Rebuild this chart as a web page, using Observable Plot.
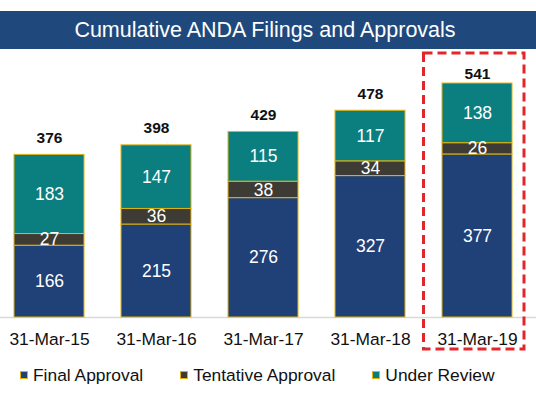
<!DOCTYPE html>
<html>
<head>
<meta charset="utf-8">
<script src="https://cdn.jsdelivr.net/npm/d3@7"></script>
<script src="https://cdn.jsdelivr.net/npm/@observablehq/plot@0.6"></script>
<style>
  html, body { margin: 0; padding: 0; background: #fff; }
  body { width: 536px; height: 396px; overflow: hidden; font-family: "Liberation Sans", Arial, sans-serif; }
  #title { margin-top: 11px; height: 38px; line-height: 38px; background: #1F497D; color: #fff;
           font-size: 21.5px; text-align: center; padding-right: 6px; }
  #chart svg { display: block; }
  #legend { height: 40px; padding-left: 20px; padding-top: 9px; box-sizing: border-box; display: flex; align-items: flex-start; }
  .item { display: flex; align-items: center; margin-right: 37px; font-size: 17.4px; color: #111; line-height: 20px; height: 20px; }
  .sw { width: 6px; height: 6px; border: 1px solid #E2B30E; margin-right: 5px; }
</style>
</head>
<body>
<div id="title">Cumulative ANDA Filings and Approvals</div>
<div id="chart"></div>
<div id="legend"></div>
<script>
const dates = ["31-Mar-15", "31-Mar-16", "31-Mar-17", "31-Mar-18", "31-Mar-19"];
const finalApproval = [166, 215, 276, 327, 377];
const tentativeApproval = [27, 36, 38, 34, 26];
const underReview = [183, 147, 115, 117, 138];
const totals = [376, 398, 429, 478, 541];
const series = ["Final Approval", "Tentative Approval", "Under Review"];
const colors = ["#1F4178", "#3E3A34", "#0B7E7F"];
const highlight = "31-Mar-19";

const valuesBySeries = [finalApproval, tentativeApproval, underReview];
const rows = [];
dates.forEach((d, i) => {
  series.forEach((s, j) => rows.push({date: d, series: s, value: valuesBySeries[j][i]}));
});
const totalRows = dates.map((d, i) => ({date: d, total: totals[i]}));

const font = '"Liberation Sans", Arial, sans-serif';

const chart = Plot.plot({
  width: 536,
  height: 307,
  marginLeft: 0,
  marginRight: 11,
  marginTop: 8.5,
  marginBottom: 39,
  style: {fontFamily: font, fontSize: "17.4px", color: "#111", background: "transparent"},
  x: {domain: dates, paddingInner: 0.35, paddingOuter: 0.111, tickSize: 0, tickPadding: 15, label: null},
  y: {domain: [0, 600], axis: null},
  color: {domain: series, range: colors},
  marks: [
    Plot.ruleY([0], {stroke: "#d9d9d9", strokeWidth: 1.5, insetRight: -11}),
    Plot.barY(rows, {x: "date", y: "value", fill: "series", stroke: "#E2B30E", strokeWidth: 1}),
    Plot.text(rows, Plot.stackY({x: "date", y: "value", z: "series", text: d => String(d.value),
      fill: "white", fontSize: 17.5, fontFamily: font})),
    Plot.text(totalRows.filter(d => d.date !== highlight), {x: "date", y: "total", text: d => String(d.total),
      dy: -17, fontWeight: "bold", fontSize: 15.5, fill: "#111", fontFamily: font}),
    Plot.text(totalRows.filter(d => d.date === highlight), {x: "date", y: "total", text: d => String(d.total),
      dy: -9, fontWeight: "bold", fontSize: 15.5, fill: "#111", fontFamily: font}),
    Plot.cell([highlight], {x: d => d, fill: "none", stroke: "#E3262B", strokeWidth: 3,
      strokeDasharray: "9,5", insetLeft: -18.5, insetRight: -12, insetTop: -4.5, insetBottom: -32})
  ]
});
document.getElementById("chart").appendChild(chart);

const legend = document.getElementById("legend");
series.forEach((s, i) => {
  const item = document.createElement("div");
  item.className = "item";
  const sw = document.createElement("span");
  sw.className = "sw";
  sw.style.background = colors[i];
  const label = document.createElement("span");
  label.textContent = s;
  item.appendChild(sw);
  item.appendChild(label);
  legend.appendChild(item);
});
</script>
</body>
</html>
